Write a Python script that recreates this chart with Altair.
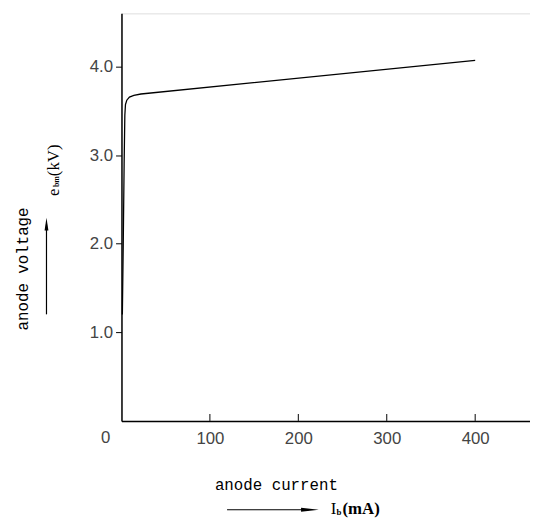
import altair as alt
import pandas as pd

# data
current_mA = [1.0, 2.0, 3.0, 3.8, 4.5, 6.0, 9.0, 14.0, 22.0, 400.0]
voltage_kV = [1.2, 2.0, 2.9, 3.45, 3.57, 3.62, 3.655, 3.675, 3.69, 4.07]
x_ticks = [100, 200, 300, 400]
y_ticks = [1.0, 2.0, 3.0, 4.0]

W, H = 414, 413
one = pd.DataFrame({"a": [0]})

curve = pd.DataFrame({"I": current_mA, "V": voltage_kV})

xs = alt.Scale(domain=[0, 462], nice=False, zero=True)
ys = alt.Scale(domain=[0, 4.6], nice=False, zero=True)

tick_font = "Liberation Sans"

line = alt.Chart(curve).mark_line(color="black", strokeWidth=1.3).encode(
    x=alt.X("I:Q", scale=xs, title=None,
            axis=alt.Axis(values=x_ticks, tickSize=0, labelFontSize=17, labelFont=tick_font,
                          labelColor="#444", labelPadding=10, grid=False,
                          domainColor="black", domainWidth=1.5, labelFontWeight="normal")),
    y=alt.Y("V:Q", scale=ys, title=None,
            axis=alt.Axis(values=y_ticks, format=".1f", tickSize=6, tickColor="black", tickWidth=1,
                          labelFontSize=17, labelFont=tick_font, labelColor="#444",
                          labelPadding=3, grid=False, domainColor="black", domainWidth=1.5)),
    order="I:Q",
)

xt = pd.DataFrame({"t": x_ticks})
xtick_rules = alt.Chart(xt).mark_rule(color="black", strokeWidth=1).encode(
    x=alt.X("t:Q", scale=xs),
    y=alt.value(H),
    y2=alt.value(H - 7),
)

def txt(text, x, y, size, font, angle=0, align="center", color="black", weight="normal"):
    kw = dict(fontSize=size, font=font, align=align, baseline="middle", color=color, fontWeight=weight)
    if angle:
        kw["angle"] = angle
    return alt.Chart(one).mark_text(**kw).encode(
        x=alt.value(x), y=alt.value(y), text=alt.value(text))

zero_lbl = txt("0", -16, 430, 17, tick_font, color="#444")
yv = txt("anode voltage", -100, 259, 16, "Liberation Mono", angle=270)
e1 = txt("e", -68, 185, 17, "Liberation Serif", angle=270, align="left")
e2 = txt("bm", -65, 176, 8, "Liberation Serif", angle=270, align="left", weight="bold")
e3 = txt("(kV)", -68, 165, 17, "Liberation Serif", angle=270, align="left")
xc = txt("anode current", 157, 478, 16, "Liberation Mono")
i1 = txt("I", 212, 502, 17, "Liberation Serif", align="left")
i2 = txt("b", 218, 505, 9, "Liberation Serif", align="left", weight="bold")
i3 = txt("(mA)", 224, 502, 17, "Liberation Serif", align="left", weight="bold")

varrow = alt.Chart(one).mark_rule(color="black", strokeWidth=1.2).encode(
    x=alt.value(-76), y=alt.value(305), y2=alt.value(214))
vhead = alt.Chart(one).mark_point(shape="M0,-1 L0.3,1 L-0.3,1 Z", filled=True, color="black",
                                  size=169, opacity=1).encode(
    x=alt.value(-76), y=alt.value(213.5))
harrow = alt.Chart(one).mark_rule(color="black", strokeWidth=1.2).encode(
    x=alt.value(107), x2=alt.value(190), y=alt.value(503))
hhead = alt.Chart(one).mark_point(shape="M1,0 L-1,-0.22 L-1,0.22 Z", filled=True, color="black",
                                  size=324, opacity=1).encode(
    x=alt.value(191), y=alt.value(503))

chart = alt.layer(
    line, xtick_rules, zero_lbl, yv, e1, e2, e3, xc, i1, i2, i3, varrow, vhead, harrow, hhead
).properties(
    width=W, height=H,
    autosize=alt.AutoSizeParams(type="none"),
    padding={"left": 115, "top": 2, "right": 0, "bottom": 100},
).configure_view(stroke=None).configure(background="white")

chart.save("out.html", embed_options={"renderer": "svg", "actions": False})
